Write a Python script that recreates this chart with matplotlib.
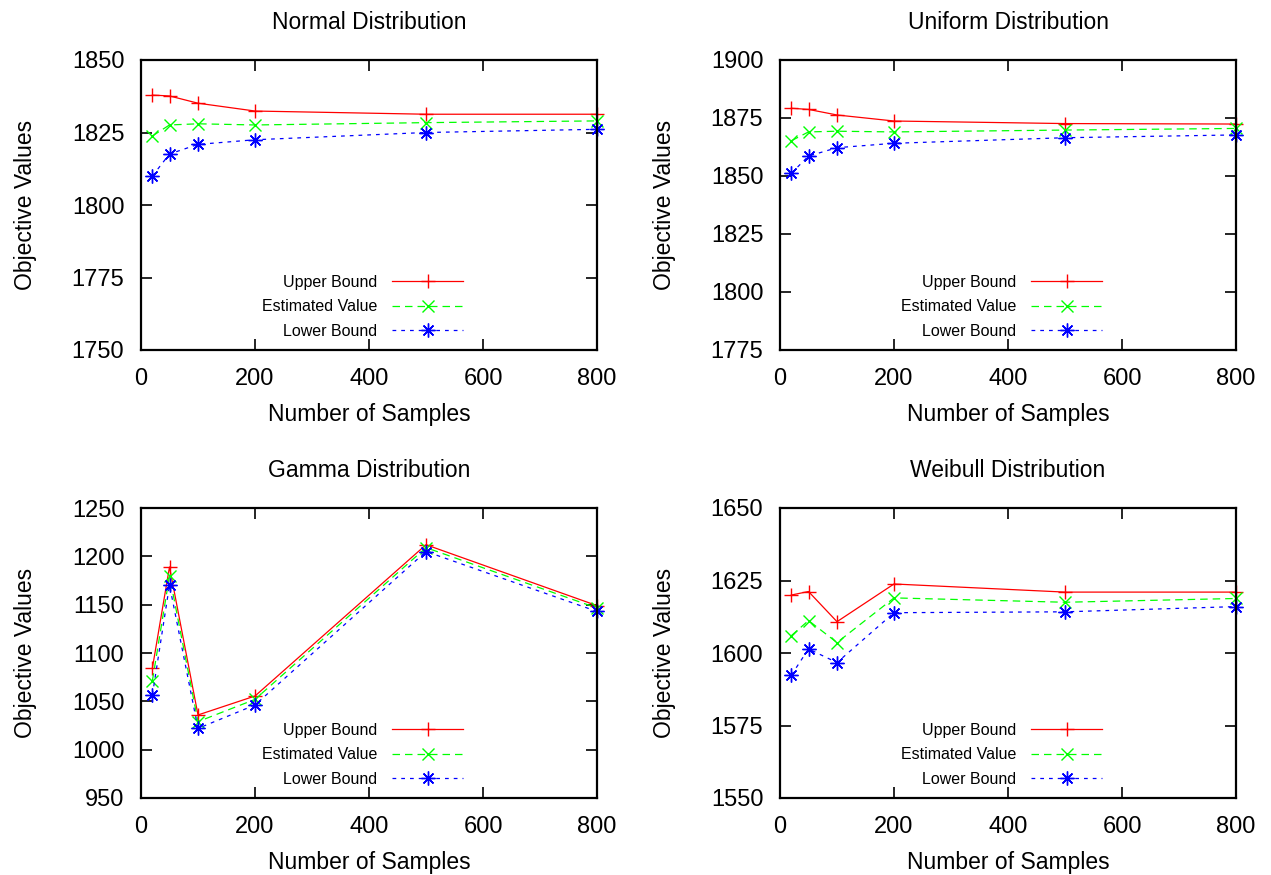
import matplotlib
matplotlib.use("Agg")
import matplotlib.pyplot as plt

plt.rcParams['font.family'] = ['Liberation Sans', 'DejaVu Sans']

samples = [20, 50, 100, 200, 500, 800]

normal_upper = [1837.9, 1837.6, 1835.1, 1832.4, 1831.3, 1831.3]
normal_est = [1823.8, 1827.6, 1828.0, 1827.6, 1828.4, 1829.0]
normal_lower = [1810.0, 1817.6, 1820.9, 1822.5, 1825.0, 1826.1]

uniform_upper = [1879.2, 1878.7, 1876.3, 1873.7, 1872.6, 1872.4]
uniform_est = [1865.2, 1869.0, 1869.3, 1869.0, 1869.8, 1870.5]
uniform_lower = [1851.2, 1858.6, 1862.2, 1864.1, 1866.5, 1867.7]

gamma_upper = [1084.5, 1189.0, 1035.9, 1055.5, 1212.0, 1149.0]
gamma_est = [1071.4, 1180.0, 1029.0, 1052.0, 1209.0, 1146.5]
gamma_lower = [1056.6, 1170.3, 1022.0, 1046.2, 1205.0, 1143.0]

weibull_upper = [1620.0, 1621.2, 1610.8, 1623.8, 1621.0, 1621.0]
weibull_est = [1606.0, 1611.2, 1603.6, 1619.0, 1617.5, 1618.8]
weibull_lower = [1592.4, 1601.4, 1596.7, 1613.9, 1614.2, 1616.0]

titles = ["Normal Distribution", "Uniform Distribution",
          "Gamma Distribution", "Weibull Distribution"]
series = [
    (normal_upper, normal_est, normal_lower),
    (uniform_upper, uniform_est, uniform_lower),
    (gamma_upper, gamma_est, gamma_lower),
    (weibull_upper, weibull_est, weibull_lower),
]
ylims = [(1750, 1850), (1775, 1900), (950, 1250), (1550, 1650)]
ysteps = [25, 25, 50, 25]
xticks = [0, 200, 400, 600, 800]
labels = ["Upper Bound", "Estimated Value", "Lower Bound"]

W, H = 1271, 875
fig = plt.figure(figsize=(W / 100, H / 100), dpi=100)

boxes = [(141, 60), (780, 60), (141, 508), (780, 508)]
aw, ah = 456, 290

for i, (title, (up, est, lo), ylim, ystep, (lx, ty)) in enumerate(
        zip(titles, series, ylims, ysteps, boxes)):
    ax = fig.add_axes([lx / W, 1 - (ty + ah) / H, aw / W, ah / H])
    ax.plot(samples, up, color='#ff0000', linestyle='-', linewidth=0.9,
            marker='+', markersize=10, markeredgewidth=1.0, label=labels[0],
            clip_on=False)
    ax.plot(samples, est, color='#00ff00', linestyle=(0, (6, 4)), linewidth=0.9,
            marker='x', markersize=9, markeredgewidth=1.0, label=labels[1],
            clip_on=False)
    ax.plot(samples, lo, color='#0000ff', linestyle=(0, (3, 4)), linewidth=0.9,
            marker=(8, 2, 0), markersize=10, markeredgewidth=1.0, label=labels[2],
            clip_on=False)
    ax.set_xlim(0, 800)
    ax.set_ylim(*ylim)
    ax.set_xticks(xticks)
    yt = list(range(ylim[0], ylim[1] + 1, ystep))
    ax.set_yticks(yt)
    ax.tick_params(direction='in', length=8, width=1.2, top=True, right=True,
                   labelsize=17)
    ax.tick_params(axis='y', pad=12)
    ax.tick_params(axis='x', pad=13)
    for s in ax.spines.values():
        s.set_linewidth(1.6)
    ax.set_title(title, fontsize=16.5, pad=22)
    ax.set_xlabel("Number of Samples", fontsize=16.5, labelpad=9)
    ax.set_ylabel("Objective Values", fontsize=16.5, labelpad=25)
    leg = ax.legend(loc='lower right', bbox_to_anchor=(0.707, 0.038),
                    frameon=False, markerfirst=False, fontsize=11.5,
                    handlelength=4.45, handletextpad=0.94, labelspacing=0.6,
                    borderpad=0, borderaxespad=0)

fig.savefig("out.png", dpi=100)
